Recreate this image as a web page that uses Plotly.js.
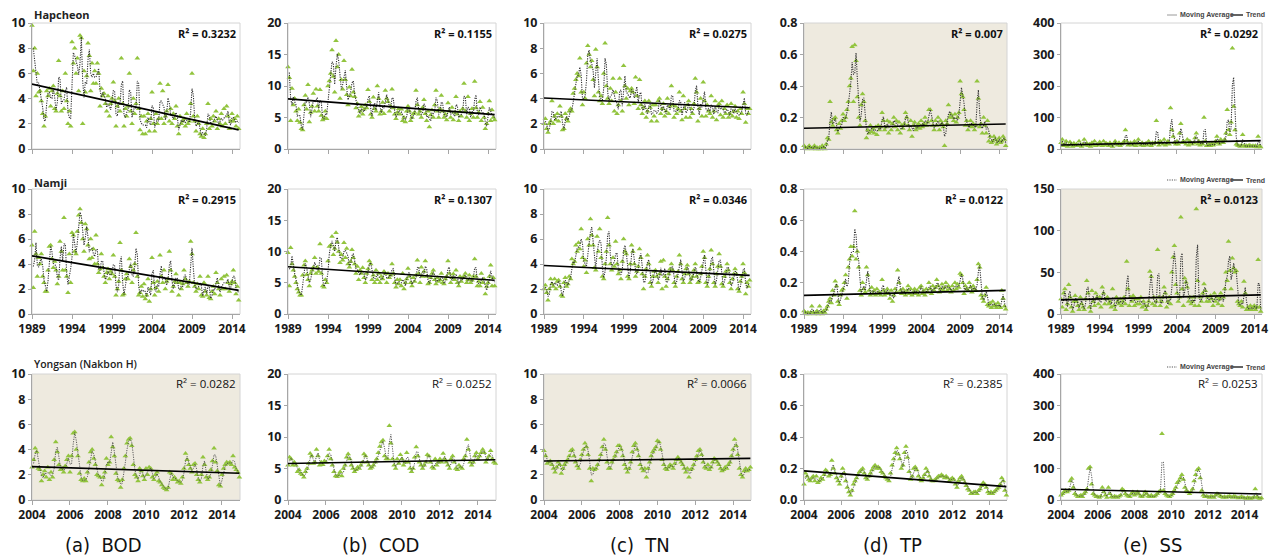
<!DOCTYPE html>
<html><head><meta charset="utf-8">
<script src="https://cdn.plot.ly/plotly-3.0.1.min.js"></script>
<style>html,body{margin:0;padding:0;background:#fff}#chart{width:1276px;height:559px}</style>
</head><body><div id="chart"></div>
<script>
// ---------- categories / labels ----------
const startLong = 1989, perYearLong = 6;     // rows 1-2: 1989-2014, bimonthly readings
const startShort = 2004, perYearShort = 12;  // row 3: 2004-2014, monthly readings
const tickYearsLong = [1989, 1994, 1999, 2004, 2009, 2014];
const tickYearsShort = [2004, 2006, 2008, 2010, 2012, 2014];
const stations = ['Hapcheon', 'Namji', 'Yongsan (Nakbon H)'];
const params = ['(a)  BOD', '(b)  COD', '(c)  TN', '(d)  TP', '(e)  SS'];
const r2Hap = ['0.3232', '0.1155', '0.0275', '0.007', '0.0292'];
const r2Nam = ['0.2915', '0.1307', '0.0346', '0.0122', '0.0123'];
const r2Yon = ['0.0282', '0.0252', '0.0066', '0.2385', '0.0253'];
// trend line values at first and last reading
const trendHap = [[5.15, 1.52], [7.95, 5.45], [4.05, 3.27], [0.132, 0.159], [12.8, 26.7]];
const trendNam = [[4.65, 1.89], [7.57, 5.4], [3.88, 3.09], [0.119, 0.151], [17, 23]];
const trendYon = [[2.65, 2.12], [5.8, 6.4], [3.1, 3.3], [0.185, 0.085], [34, 19]];

// ---------- Hapcheon (1989-2014) ----------
const hapBOD = [
9.8,6.2,8.0,4.2,6.0,4.5, 4.6,3.8,2.8,1.8,2.6,4.6, 4.2,4.8,3.4,4.6,5.0,3.2, 3.0,4.4,7.0,4.2,3.0,4.6,
3.2,6.0,3.8,2.0,3.0,1.8, 8.5,6.8,8.0,6.0,7.2,4.6, 9.0,8.8,2.0,6.2,4.5,5.8, 8.4,7.4,4.6,6.8,5.2,6.2,
5.2,6.8,6.0,3.4,4.8,4.2, 4.4,3.6,3.0,4.2,2.6,3.6, 4.0,5.3,3.8,1.8,3.4,4.0, 3.0,7.2,3.6,1.8,3.2,2.6,
3.4,6.0,3.0,2.0,4.0,2.8, 3.6,7.2,3.2,1.5,2.6,1.2, 2.6,1.2,2.2,2.8,1.4,2.4, 4.5,2.0,1.4,2.8,2.0,2.4,
5.2,2.4,4.6,2.0,2.6,3.0, 5.1,2.2,3.2,2.0,2.8,2.4, 3.4,1.8,1.2,2.6,2.0,2.2, 2.4,1.8,2.8,2.0,2.2,3.6,
6.0,2.6,2.2,1.4,2.6,2.0, 1.2,1.0,1.6,0.9,1.2,2.0, 3.6,1.6,2.4,1.8,2.6,2.2, 3.0,1.6,2.4,2.0,2.8,1.8,
3.2,2.0,3.4,2.6,1.6,2.2, 2.8,2.2,2.4,1.8,2.6,1.6];
const hapCOD = [
13.0,11.3,4.5,9.6,7.0,8.0, 6.0,4.5,6.3,4.2,3.2,3.0, 7.0,8.5,6.3,10.2,4.3,5.8, 6.8,8.8,6.0,9.5,6.8,6.0,
9.4,5.3,4.6,5.0,6.0,4.8, 10.0,10.8,12.0,15.7,11.5,9.0, 17.2,13.0,15.0,8.0,11.0,9.5, 14.0,11.0,8.6,7.0,9.8,8.4,
12.6,9.0,8.3,6.5,7.2,5.2, 6.0,6.7,5.5,6.3,7.0,6.5, 9.4,7.5,5.5,5.0,8.2,6.4, 6.0,10.0,8.0,5.5,6.0,7.4,
5.6,9.3,8.0,7.5,6.0,6.8, 9.5,6.5,5.5,4.8,5.8,6.4, 5.5,6.3,4.5,5.0,4.3,6.0, 6.8,6.0,4.5,5.0,5.6,5.8,
9.3,7.0,5.5,6.0,5.0,6.6, 7.8,5.6,4.5,6.0,3.5,5.4, 6.2,5.0,7.0,9.3,6.0,5.0, 6.4,8.5,6.0,5.0,5.5,4.6,
7.3,6.0,5.0,6.6,4.6,5.8, 8.3,5.5,4.5,6.0,5.2,6.4, 10.4,6.0,5.0,8.3,4.5,5.6, 6.4,5.0,10.7,6.5,5.0,5.8,
7.5,4.5,6.6,5.0,3.2,4.0, 5.6,7.6,4.5,6.2,5.0,4.6];
const hapTN = [
2.0,2.4,1.6,1.3,2.0,2.2, 3.8,2.0,2.6,2.3,2.8,2.2, 3.4,2.6,1.5,1.6,2.8,2.4, 2.2,3.0,3.2,3.0,4.4,4.8,
5.5,6.0,5.8,7.2,4.5,3.5, 4.5,4.0,6.8,8.2,7.5,6.5, 7.0,5.5,4.2,7.9,6.5,4.5, 3.8,4.2,3.6,6.0,8.4,5.0,
4.0,3.6,4.8,3.8,5.6,3.0, 4.5,2.8,3.5,5.6,3.8,3.0, 6.6,5.0,4.0,4.8,3.5,4.6, 4.8,4.5,3.6,5.7,4.2,3.2,
5.5,3.5,2.8,3.3,3.8,2.5, 3.0,3.8,3.3,2.2,3.5,2.6, 3.5,2.2,3.8,4.0,2.8,3.2, 3.6,2.6,3.0,4.0,2.8,3.4,
5.0,3.5,2.5,3.4,2.8,3.2, 4.5,3.0,2.3,4.2,3.2,2.5, 3.5,3.8,2.5,3.2,2.8,3.6, 5.6,4.5,2.2,3.2,4.0,2.6,
5.3,3.8,2.6,3.5,3.0,2.8, 4.2,2.5,3.0,3.8,2.3,3.4, 3.6,2.7,3.8,2.5,3.2,2.8, 3.5,2.5,2.8,3.6,2.6,3.0,
3.4,2.5,3.0,2.4,3.2,2.8, 4.5,3.6,2.1,3.2,2.8,3.2];
const hapTP = [
0.02,0.01,0.00,0.01,0.02,0.01, 0.00,0.01,0.02,0.00,0.01,0.00, 0.01,0.00,0.02,0.01,0.00,0.03, 0.07,0.06,0.30,0.17,0.15,0.19,
0.20,0.12,0.10,0.16,0.13,0.18, 0.22,0.18,0.20,0.25,0.30,0.40, 0.45,0.65,0.30,0.66,0.56,0.33, 0.20,0.15,0.28,0.35,0.30,0.18,
0.07,0.12,0.10,0.15,0.11,0.13, 0.10,0.14,0.09,0.15,0.12,0.14, 0.23,0.18,0.12,0.14,0.18,0.10, 0.17,0.12,0.16,0.20,0.14,0.18,
0.12,0.17,0.10,0.15,0.13,0.16, 0.23,0.20,0.15,0.12,0.18,0.08, 0.15,0.17,0.12,0.14,0.16,0.13, 0.18,0.14,0.16,0.20,0.15,0.17,
0.25,0.25,0.18,0.15,0.12,0.18, 0.15,0.20,0.12,0.18,0.16,0.14, 0.02,0.18,0.16,0.28,0.20,0.22, 0.20,0.18,0.22,0.17,0.20,0.23,
0.43,0.35,0.33,0.25,0.15,0.18, 0.12,0.15,0.18,0.14,0.16,0.12, 0.15,0.43,0.32,0.14,0.16,0.10, 0.20,0.15,0.10,0.18,0.05,0.08,
0.04,0.05,0.08,0.06,0.03,0.05, 0.07,0.04,0.05,0.08,0.06,0.02];
const hapSS = [
20,30,10,15,25,8, 12,22,15,8,18,10, 15,10,25,12,8,15, 30,12,18,10,15,8,
20,12,25,10,15,12, 22,15,10,25,12,18, 15,10,20,12,8,18, 25,15,12,20,10,15,
18,25,60,25,12,15, 20,12,15,25,10,18, 30,15,12,20,10,15, 18,12,25,15,10,20,
15,20,90,20,12,25, 20,15,30,12,18,25, 15,130,60,40,20,15, 25,15,50,80,20,25,
20,15,30,12,25,18, 15,20,35,50,15,25, 12,20,15,100,25,10, 12,15,10,18,12,15,
25,40,20,15,30,20, 20,30,50,125,60,45, 85,320,135,60,15,12, 10,8,12,45,10,8,
10,8,12,10,8,10, 8,10,6,40,10,6];

// ---------- Namji (1989-2014) ----------
const namBOD = [
5.5,2.1,6.6,4.8,3.0,4.5, 4.0,4.8,3.0,2.5,1.8,1.8, 3.5,5.4,5.5,4.4,3.7,4.2, 3.5,2.4,3.0,5.8,5.0,3.5,
7.7,3.5,3.0,1.7,4.8,2.5, 6.5,6.3,5.0,4.8,6.6,7.9, 8.4,7.3,6.0,5.0,7.2,6.8, 5.5,4.4,6.0,4.5,5.2,4.0,
6.3,4.0,3.3,3.6,4.8,3.7, 3.0,2.5,3.3,3.6,2.8,3.4, 3.2,4.7,3.0,1.5,2.0,2.6, 5.7,3.5,1.5,1.6,2.8,3.2,
2.8,4.4,3.8,2.5,3.5,4.0, 6.5,3.0,1.5,1.7,2.2,1.4, 2.4,1.2,1.5,2.8,1.0,2.0, 4.5,2.5,1.5,2.1,2.6,1.8,
4.7,3.0,2.5,3.5,2.0,2.6, 2.8,5.0,3.5,1.8,2.2,2.6, 3.2,2.5,1.5,2.5,2.0,2.4, 3.5,2.8,2.5,2.2,2.6,5.8,
4.8,2.5,2.2,1.8,2.4,2.0, 3.0,1.5,1.4,2.5,1.8,1.5, 3.0,1.3,1.2,1.8,2.2,1.6, 3.3,2.5,2.0,1.5,2.8,2.0,
3.0,2.0,3.1,2.5,1.8,2.4, 2.6,3.5,2.5,1.6,2.2,1.1];
const namCOD = [
9.8,4.5,10.6,8.0,7.0,6.0, 5.0,4.0,3.5,3.0,3.0,6.2, 7.8,8.5,6.3,5.5,4.5,6.5, 7.0,7.5,9.0,6.5,7.5,6.8,
11.2,6.5,4.5,4.3,5.5,5.0, 8.5,10.8,11.0,12.4,9.5,10.5, 13.0,11.5,10.0,8.2,9.5,8.6, 11.4,9.0,10.5,8.0,7.5,8.4,
10.3,9.0,8.0,6.5,7.6,5.5, 7.0,6.5,7.4,5.8,5.0,6.5, 7.2,8.5,8.0,5.5,6.2,5.0, 7.0,5.5,6.5,5.0,6.0,5.6,
6.8,6.5,5.0,6.5,5.8,6.2, 8.0,6.5,5.0,4.3,5.5,4.8, 5.5,4.5,6.5,4.0,5.0,5.6, 7.3,6.0,5.0,4.5,5.8,5.2,
6.2,8.6,6.5,5.0,7.5,6.0, 6.8,8.5,6.0,4.8,5.0,5.8, 6.5,7.0,5.5,4.8,5.8,5.2, 5.5,6.5,5.0,4.8,5.6,6.0,
8.5,6.5,5.0,5.8,6.4,5.5, 7.0,5.0,4.5,6.0,5.2,5.8, 6.0,6.5,5.0,5.5,6.2,5.0, 5.4,6.0,8.8,6.0,4.5,5.2,
4.5,6.5,5.0,5.6,3.2,4.4, 5.0,6.0,7.8,4.5,5.8,4.5];
const namTN = [
2.0,2.3,1.7,1.1,2.0,2.8, 2.4,2.2,2.8,2.0,2.6,2.7, 2.2,1.5,1.4,2.5,2.9,2.2, 2.4,3.0,2.8,4.4,4.0,4.2,
5.5,5.0,5.7,5.2,6.8,4.5, 3.8,4.3,3.3,6.0,5.5,7.6, 6.3,5.5,3.7,3.5,6.2,5.0, 6.8,4.5,3.0,2.8,4.0,5.0,
7.7,5.5,4.0,3.5,4.5,3.8, 5.8,4.0,3.2,3.5,2.8,4.2, 6.0,5.0,4.8,3.0,2.8,4.0, 5.5,5.0,4.0,3.0,3.4,3.8,
5.2,4.5,3.2,2.0,3.0,3.6, 4.7,4.0,2.5,2.2,3.0,3.4, 3.5,3.0,2.5,3.2,4.2,2.0, 4.3,3.0,2.2,2.8,3.2,3.6,
4.0,3.5,2.5,2.2,3.0,3.4, 4.7,4.0,2.8,2.5,3.2,3.6, 3.9,3.2,2.5,2.8,3.0,3.5, 4.0,3.0,2.5,2.6,3.2,3.8,
5.0,4.5,2.5,2.2,3.0,3.6, 5.1,4.0,2.5,2.2,3.2,3.8, 4.8,3.8,2.4,2.2,3.0,3.4, 4.0,3.5,2.5,2.0,2.8,3.2,
3.6,3.2,2.0,1.8,2.6,3.0, 4.0,3.3,1.6,2.5,2.2,2.7];
const namTP = [
0.02,0.01,0.00,0.01,0.00,0.01, 0.05,0.01,0.00,0.01,0.02,0.00, 0.05,0.01,0.00,0.02,0.01,0.03, 0.05,0.08,0.10,0.07,0.15,0.12,
0.21,0.18,0.08,0.06,0.12,0.15, 0.16,0.20,0.25,0.10,0.30,0.35, 0.43,0.37,0.43,0.66,0.35,0.40, 0.30,0.15,0.12,0.20,0.16,0.14,
0.30,0.25,0.15,0.12,0.17,0.13, 0.15,0.12,0.16,0.13,0.14,0.12, 0.22,0.15,0.12,0.14,0.16,0.13, 0.10,0.15,0.08,0.12,0.16,0.14,
0.28,0.20,0.15,0.13,0.16,0.14, 0.12,0.15,0.18,0.13,0.16,0.12, 0.14,0.16,0.13,0.15,0.12,0.17, 0.18,0.13,0.15,0.12,0.16,0.14,
0.20,0.16,0.13,0.18,0.15,0.17, 0.22,0.18,0.14,0.16,0.19,0.15, 0.17,0.20,0.15,0.18,0.16,0.14, 0.18,0.15,0.20,0.16,0.19,0.17,
0.26,0.25,0.20,0.13,0.18,0.16, 0.15,0.20,0.17,0.14,0.18,0.16, 0.15,0.22,0.32,0.30,0.12,0.10, 0.08,0.12,0.17,0.06,0.05,0.07,
0.04,0.08,0.05,0.06,0.04,0.07, 0.05,0.04,0.15,0.10,0.05,0.03];
const namSS = [
18,8,25,30,5,12, 35,20,8,3,15,22, 15,10,5,20,12,8, 5,18,40,25,8,3,
28,15,10,25,20,12, 20,8,32,25,12,18, 20,12,15,8,30,10, 5,20,15,12,18,10,
15,20,12,63,30,10, 20,15,22,10,18,12, 18,12,20,8,15,10, 5,10,15,51,45,12,
20,10,15,77,20,10, 15,20,32,25,8,15, 20,12,50,68,82,35, 25,15,20,116,30,10,
43,38,32,15,20,12, 15,20,10,126,40,10, 20,15,25,36,28,15, 20,15,22,18,10,25,
15,20,12,18,25,10, 20,30,50,40,87,52, 30,67,55,50,52,15, 12,10,15,8,39,25,
5,8,5,10,5,8, 10,5,8,65,8,3];

// ---------- Yongsan (Nakbon H) (2004-2014) ----------
const yonBOD = [
2.6,3.2,4.1,3.8,2.5,2.4,1.5,2.0,2.3,1.8,2.6,1.6,
2.2,1.8,3.2,4.6,3.8,2.8,2.4,2.5,2.2,2.7,3.2,3.5,
2.2,3.5,5.3,5.4,4.0,3.5,2.1,1.6,1.5,1.7,1.5,2.2,
3.0,3.8,4.0,3.3,2.8,2.0,1.9,1.8,1.2,1.8,2.2,3.3,
2.8,3.0,5.0,4.2,3.5,2.1,1.6,1.5,1.0,1.6,2.5,3.5,
4.5,4.8,4.9,4.3,2.8,2.0,1.8,1.5,2.5,2.3,1.9,1.6,
2.5,2.0,2.6,2.5,1.8,1.6,2.0,2.2,1.5,1.4,1.2,1.0,
0.9,0.8,1.0,2.2,2.1,1.6,1.8,1.6,1.4,1.5,1.3,1.8,
2.5,3.7,3.2,2.8,2.5,2.2,2.8,2.9,2.0,1.6,1.4,2.0,
3.4,2.8,1.8,1.6,1.8,2.4,3.1,4.1,3.0,2.3,1.2,1.1,
2.0,2.5,2.8,3.0,2.9,3.0,2.8,3.5,2.6,2.4,2.2,1.8];
const yonCOD = [
5.5,6.8,6.5,5.5,6.0,5.5,4.5,4.8,4.2,4.0,3.6,4.5,
5.0,5.8,7.4,7.0,5.8,6.0,8.0,7.0,5.5,6.0,5.6,6.2,
6.0,7.0,8.0,6.5,5.5,4.5,3.8,3.7,4.0,4.5,3.8,5.0,
5.5,6.8,7.3,6.5,5.5,5.0,4.5,4.8,5.2,5.0,5.5,6.0,
7.3,7.0,6.0,5.5,5.0,5.2,5.5,6.0,6.5,7.5,8.5,9.2,
9.5,7.0,6.5,6.5,11.8,9.0,6.5,5.5,5.0,6.5,5.8,7.2,
6.5,5.5,6.0,7.5,6.0,5.0,4.5,5.0,6.8,8.4,7.0,6.0,
5.5,5.0,5.5,6.0,7.2,7.0,6.0,5.2,5.0,6.5,5.5,6.0,
6.5,6.0,7.4,6.5,6.0,5.5,5.0,6.5,7.0,6.0,5.0,4.8,
5.5,5.2,5.0,6.5,7.0,9.6,8.0,6.0,5.5,6.0,7.0,7.5,
6.5,7.0,7.5,8.0,7.5,6.0,6.5,7.0,7.8,6.5,6.0,5.8];
const yonTN = [
3.9,3.5,2.9,3.0,3.1,2.8,2.5,2.2,2.6,3.0,2.8,2.1,
2.5,2.8,3.0,3.2,3.5,3.9,4.0,3.5,3.0,2.7,2.5,3.2,
3.6,4.0,4.5,4.2,3.6,2.5,1.5,2.5,2.4,2.5,2.8,3.2,
3.6,4.2,4.8,4.0,3.0,2.5,2.5,3.0,3.2,3.5,3.8,4.3,
4.3,4.0,3.5,2.8,2.5,2.2,2.5,3.0,3.8,4.3,4.5,4.0,
3.5,2.8,2.5,2.3,2.5,1.8,2.5,3.0,3.5,3.8,4.0,4.2,
4.7,4.6,4.0,3.2,2.8,2.5,2.4,2.6,2.8,2.7,2.5,2.9,
3.2,3.4,3.2,3.0,2.8,2.5,2.2,2.5,1.8,2.4,2.5,2.8,
3.2,3.5,3.9,4.0,3.6,3.0,2.6,2.5,2.8,2.4,2.6,3.0,
3.3,3.2,3.0,2.8,2.5,2.3,2.4,2.6,2.5,2.8,3.0,3.5,
4.0,4.8,4.3,3.6,2.5,2.0,1.8,2.3,2.5,2.3,2.4,2.6];
const yonTP = [
0.10,0.17,0.15,0.13,0.12,0.14,0.15,0.12,0.15,0.11,0.12,0.14,
0.13,0.16,0.19,0.18,0.15,0.16,0.25,0.20,0.17,0.14,0.12,0.10,
0.15,0.20,0.17,0.12,0.08,0.05,0.03,0.06,0.10,0.12,0.14,0.16,
0.18,0.19,0.20,0.17,0.14,0.13,0.15,0.17,0.19,0.21,0.22,0.20,
0.21,0.20,0.18,0.17,0.15,0.14,0.13,0.12,0.17,0.22,0.26,0.30,
0.33,0.29,0.26,0.20,0.22,0.30,0.34,0.27,0.18,0.13,0.15,0.20,
0.21,0.19,0.15,0.13,0.12,0.14,0.16,0.20,0.18,0.15,0.13,0.12,
0.12,0.13,0.14,0.15,0.15,0.16,0.15,0.14,0.15,0.14,0.12,0.13,
0.14,0.13,0.10,0.08,0.12,0.14,0.15,0.13,0.11,0.09,0.07,0.06,
0.04,0.04,0.05,0.05,0.04,0.06,0.07,0.09,0.11,0.10,0.08,0.05,
0.04,0.05,0.04,0.05,0.06,0.07,0.08,0.10,0.14,0.12,0.06,0.03];
const yonSS = [
15,20,25,30,25,30,60,68,40,20,15,10,
12,15,10,20,25,35,100,105,50,20,15,10,
10,8,12,40,25,15,8,40,20,10,8,12,
10,8,12,15,35,30,20,15,12,10,20,25,
15,20,25,18,12,10,15,25,20,12,10,15,
10,12,15,20,25,30,210,30,20,15,12,10,
15,20,30,40,55,60,70,80,65,40,30,25,
20,25,35,60,80,95,100,70,30,15,10,12,
10,8,12,10,8,15,20,18,12,10,8,10,
8,10,12,10,8,12,10,8,6,8,10,8,
6,5,8,6,5,6,8,35,10,6,5,6];

// ---------- layout geometry ----------
const W = 1276, H = 559;
const colPx = [[32, 240], [288, 496], [544, 751], [804, 1007], [1061, 1262]];
const rowPx = [[23, 149], [189, 314], [374, 500]];
const series = [[hapBOD, hapCOD, hapTN, hapTP, hapSS], [namBOD, namCOD, namTN, namTP, namSS], [yonBOD, yonCOD, yonTN, yonTP, yonSS]];
const trends = [trendHap, trendNam, trendYon];
const r2s = [r2Hap, r2Nam, r2Yon];
const yRanges = [[10, 20, 10, 0.8, 400], [10, 20, 10, 0.8, 150], [10, 20, 10, 0.8, 400]];
const yDticks = [[2, 5, 2, 0.2, 100], [2, 5, 2, 0.2, 50], [2, 5, 2, 0.2, 100]];
const shaded = {'0-3': 1, '1-4': 1, '2-0': 1, '2-2': 1};
const BEIGE = '#EEEADF', GREEN = '#92C43E';
const FONT = 'Open Sans, Noto Sans, sans-serif';
const px = v => v / W, py = v => 1 - v / H;

const traces = [], shapes = [], annotations = [];
const layout = {
  width: W, height: H, margin: {l: 0, r: 0, t: 0, b: 0},
  paper_bgcolor: '#ffffff', plot_bgcolor: 'rgba(0,0,0,0)', showlegend: false,
  font: {family: FONT, color: '#1a1a1a'}
};

for (let r = 0; r < 3; r++) {
  for (let c = 0; c < 5; c++) {
    const k = r * 5 + c + 1;
    const sfx = k > 1 ? String(k) : '';
    const xa = 'x' + sfx, ya = 'y' + sfx;
    const vals = series[r][c];
    const isLong = r < 2;
    const x = vals.map((_, i) => isLong ? startLong + i / perYearLong : startShort + i / perYearShort);
    traces.push({type: 'scatter', mode: 'markers', x: x, y: vals, xaxis: xa, yaxis: ya,
      marker: {symbol: 'triangle-up', size: 5, color: GREEN}, cliponaxis: false, hoverinfo: 'skip'});
    const mx = [], my = [];
    for (let i = 1; i < vals.length; i++) { mx.push(x[i]); my.push((vals[i - 1] + vals[i]) / 2); }
    traces.push({type: 'scatter', mode: 'lines', x: mx, y: my, xaxis: xa, yaxis: ya,
      line: {color: isLong ? '#333333' : '#4a4a4a', width: isLong ? 1.1 : 0.9, dash: '1.2px,1.2px'}, hoverinfo: 'skip'});
    traces.push({type: 'scatter', mode: 'lines', x: [x[0], x[x.length - 1]], y: trends[r][c], xaxis: xa, yaxis: ya,
      line: {color: '#000000', width: 1.6}, hoverinfo: 'skip'});

    layout['xaxis' + sfx] = {
      domain: [px(colPx[c][0]), px(colPx[c][1])], anchor: ya,
      range: isLong ? [1989, 2015] : [2004, 2014.95],
      tickvals: isLong ? tickYearsLong : tickYearsShort,
      showticklabels: r > 0, ticks: 'outside', ticklen: 4, tickcolor: '#A6A6A6',
      showline: true, linecolor: '#A6A6A6', linewidth: 1, showgrid: false, zeroline: false,
      tickfont: {family: FONT, size: 12, color: '#1a1a1a', weight: 'bold'}, fixedrange: true
    };
    layout['yaxis' + sfx] = {
      domain: [py(rowPx[r][1]), py(rowPx[r][0])], anchor: xa,
      range: [0, yRanges[r][c]], tick0: 0, dtick: yDticks[r][c], tickformat: c === 3 ? '.1f' : 'd',
      ticks: 'outside', ticklen: 3, tickcolor: '#A6A6A6',
      showline: true, linecolor: '#A6A6A6', linewidth: 1, showgrid: false, zeroline: false,
      tickfont: {family: FONT, size: 12.5, color: '#1a1a1a', weight: 'bold'}, fixedrange: true
    };
    shapes.push({type: 'rect', xref: xa + ' domain', yref: ya + ' domain', x0: 0, x1: 1, y0: 0, y1: 1,
      line: {color: '#D4D4D4', width: 1}, fillcolor: shaded[r + '-' + c] ? BEIGE : 'rgba(0,0,0,0)', layer: 'below'});
    annotations.push({xref: 'paper', yref: 'paper', x: px(colPx[c][1] - 2), y: py(rowPx[r][0] + 10),
      xanchor: 'right', yanchor: 'middle', showarrow: false, text: 'R² = ' + r2s[r][c],
      font: {family: FONT, size: r < 2 ? 11 : 11.5, color: '#111', weight: r < 2 ? 'bold' : 'normal'}});
  }
  // legend at top right of SS panel
  const ly = [15, 180, 367][r];
  shapes.push({type: 'line', xref: 'paper', yref: 'paper', x0: px(1167), x1: px(1177), y0: py(ly), y1: py(ly),
    line: {color: r === 0 ? '#9a9a9a' : '#555', width: 1, dash: r === 0 ? 'solid' : '1.2px,1.2px'}});
  annotations.push({xref: 'paper', yref: 'paper', x: px(1178), y: py(ly), xanchor: 'left', yanchor: 'middle',
    showarrow: false, text: 'Moving Average', font: {family: 'Liberation Sans, Arial, sans-serif', size: 7, color: '#444', weight: 'bold'}});
  shapes.push({type: 'line', xref: 'paper', yref: 'paper', x0: px(1231), x1: px(1243), y0: py(ly), y1: py(ly),
    line: {color: '#222', width: 1.4}});
  annotations.push({xref: 'paper', yref: 'paper', x: px(1244), y: py(ly), xanchor: 'left', yanchor: 'middle',
    showarrow: false, text: 'Trend', font: {family: 'Liberation Sans, Arial, sans-serif', size: 7, color: '#444', weight: 'bold'}});
  // station name
  annotations.push({xref: 'paper', yref: 'paper', x: px(32), y: py([15, 182, 364][r]),
    xanchor: 'left', yanchor: 'middle', showarrow: false, text: stations[r],
    font: {family: FONT, size: r < 2 ? 11 : 10.5, color: '#222', weight: r < 2 ? 'bold' : 600}});
}
// parameter captions
const capX = [103, 380, 640, 892, 1152];
params.forEach((t, i) => annotations.push({xref: 'paper', yref: 'paper', x: px(capX[i]), y: py(545),
  xanchor: 'center', yanchor: 'middle', showarrow: false, text: t,
  font: {family: 'Liberation Sans Narrow, DejaVu Sans Condensed, sans-serif', size: 20, color: '#111'}}));

layout.shapes = shapes;
layout.annotations = annotations;
Plotly.newPlot('chart', traces, layout, {displayModeBar: false, staticPlot: true});
</script></body></html>
